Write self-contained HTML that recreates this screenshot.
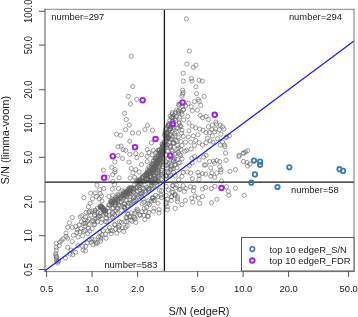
<!DOCTYPE html>
<html><head><meta charset="utf-8"><style>
html,body{margin:0;padding:0;background:#fff;}
body{width:358px;height:317px;overflow:hidden;}
svg{display:block;will-change:transform;}
text{font-family:"Liberation Sans",sans-serif;fill:#1a1a1a;}
.tk2{font-size:9.7px;}
.tk3{font-size:10.5px;}
.ttl{font-size:11.8px;}
</style></head><body><svg xmlns="http://www.w3.org/2000/svg" width="358" height="317" viewBox="0 0 358 317"><g fill="none" stroke="#606060" stroke-width="0.6"><circle cx="131.3" cy="56.2" r="2.1"/><circle cx="186.4" cy="18.8" r="2.1"/><circle cx="189.4" cy="51.0" r="2.1"/><circle cx="186.8" cy="64.1" r="2.1"/><circle cx="193.4" cy="67.3" r="2.1"/><circle cx="195.9" cy="65.2" r="2.1"/><circle cx="183.2" cy="73.2" r="2.1"/><circle cx="183.2" cy="81.1" r="2.1"/><circle cx="191.4" cy="78.5" r="2.1"/><circle cx="192.0" cy="81.1" r="2.1"/><circle cx="199.1" cy="80.3" r="2.1"/><circle cx="202.3" cy="81.1" r="2.1"/><circle cx="195.9" cy="86.8" r="2.1"/><circle cx="182.6" cy="90.2" r="2.1"/><circle cx="183.2" cy="92.5" r="2.1"/><circle cx="182.6" cy="94.2" r="2.1"/><circle cx="182.0" cy="96.2" r="2.1"/><circle cx="196.6" cy="93.6" r="2.1"/><circle cx="204.2" cy="96.5" r="2.1"/><circle cx="178.6" cy="104.4" r="2.1"/><circle cx="188.3" cy="103.3" r="2.1"/><circle cx="185.5" cy="105.8" r="2.1"/><circle cx="194.3" cy="101.6" r="2.1"/><circle cx="198.2" cy="99.3" r="2.1"/><circle cx="199.1" cy="101.2" r="2.1"/><circle cx="200.8" cy="105.3" r="2.1"/><circle cx="191.1" cy="106.7" r="2.1"/><circle cx="178.6" cy="110.7" r="2.1"/><circle cx="183.2" cy="109.9" r="2.1"/><circle cx="192.3" cy="110.7" r="2.1"/><circle cx="197.4" cy="110.1" r="2.1"/><circle cx="132.8" cy="86.5" r="2.1"/><circle cx="128.3" cy="96.3" r="2.1"/><circle cx="136.7" cy="99.3" r="2.1"/><circle cx="130.5" cy="104.0" r="2.1"/><circle cx="124.6" cy="113.3" r="2.1"/><circle cx="126.3" cy="119.5" r="2.1"/><circle cx="206.1" cy="116.5" r="2.1"/><circle cx="208.4" cy="119.4" r="2.1"/><circle cx="215.8" cy="122.0" r="2.1"/><circle cx="216.4" cy="123.9" r="2.1"/><circle cx="212.4" cy="125.1" r="2.1"/><circle cx="208.4" cy="126.8" r="2.1"/><circle cx="220.3" cy="125.1" r="2.1"/><circle cx="222.6" cy="126.8" r="2.1"/><circle cx="223.8" cy="129.0" r="2.1"/><circle cx="211.8" cy="129.6" r="2.1"/><circle cx="215.8" cy="129.0" r="2.1"/><circle cx="219.2" cy="129.6" r="2.1"/><circle cx="209.5" cy="132.5" r="2.1"/><circle cx="214.7" cy="131.9" r="2.1"/><circle cx="206.1" cy="132.5" r="2.1"/><circle cx="220.9" cy="134.2" r="2.1"/><circle cx="212.4" cy="135.9" r="2.1"/><circle cx="229.4" cy="135.9" r="2.1"/><circle cx="217.5" cy="138.7" r="2.1"/><circle cx="226.0" cy="137.6" r="2.1"/><circle cx="207.3" cy="138.1" r="2.1"/><circle cx="210.1" cy="141.0" r="2.1"/><circle cx="213.0" cy="142.1" r="2.1"/><circle cx="206.1" cy="142.7" r="2.1"/><circle cx="222.6" cy="142.1" r="2.1"/><circle cx="220.3" cy="145.0" r="2.1"/><circle cx="224.3" cy="145.0" r="2.1"/><circle cx="224.9" cy="146.7" r="2.1"/><circle cx="187.7" cy="116.5" r="2.1"/><circle cx="188.9" cy="122.8" r="2.1"/><circle cx="192.3" cy="126.2" r="2.1"/><circle cx="195.7" cy="127.9" r="2.1"/><circle cx="199.7" cy="129.0" r="2.1"/><circle cx="203.1" cy="130.2" r="2.1"/><circle cx="188.9" cy="130.8" r="2.1"/><circle cx="193.4" cy="135.9" r="2.1"/><circle cx="198.0" cy="134.7" r="2.1"/><circle cx="188.3" cy="137.0" r="2.1"/><circle cx="185.5" cy="142.1" r="2.1"/><circle cx="190.6" cy="142.1" r="2.1"/><circle cx="195.7" cy="140.4" r="2.1"/><circle cx="199.1" cy="142.7" r="2.1"/><circle cx="194.5" cy="145.5" r="2.1"/><circle cx="202.5" cy="145.0" r="2.1"/><circle cx="200.2" cy="115.4" r="2.1"/><circle cx="202.5" cy="117.7" r="2.1"/><circle cx="178.6" cy="113.1" r="2.1"/><circle cx="182.0" cy="114.3" r="2.1"/><circle cx="176.4" cy="116.5" r="2.1"/><circle cx="173.0" cy="117.1" r="2.1"/><circle cx="179.8" cy="117.1" r="2.1"/><circle cx="179.2" cy="123.4" r="2.1"/><circle cx="180.9" cy="126.8" r="2.1"/><circle cx="176.4" cy="127.9" r="2.1"/><circle cx="182.0" cy="130.2" r="2.1"/><circle cx="176.4" cy="131.9" r="2.1"/><circle cx="181.5" cy="133.0" r="2.1"/><circle cx="183.2" cy="136.4" r="2.1"/><circle cx="178.1" cy="137.0" r="2.1"/><circle cx="175.8" cy="140.4" r="2.1"/><circle cx="180.9" cy="141.5" r="2.1"/><circle cx="177.5" cy="145.5" r="2.1"/><circle cx="182.0" cy="145.5" r="2.1"/><circle cx="167.5" cy="127.0" r="2.1"/><circle cx="169.5" cy="130.0" r="2.1"/><circle cx="167.0" cy="133.0" r="2.1"/><circle cx="170.0" cy="135.0" r="2.1"/><circle cx="168.0" cy="138.0" r="2.1"/><circle cx="166.5" cy="141.0" r="2.1"/><circle cx="169.5" cy="142.0" r="2.1"/><circle cx="171.5" cy="139.0" r="2.1"/><circle cx="167.5" cy="145.0" r="2.1"/><circle cx="170.5" cy="146.5" r="2.1"/><circle cx="173.0" cy="143.0" r="2.1"/><circle cx="172.0" cy="132.0" r="2.1"/><circle cx="166.5" cy="136.0" r="2.1"/><circle cx="129.3" cy="125.1" r="2.1"/><circle cx="125.6" cy="129.6" r="2.1"/><circle cx="132.4" cy="133.0" r="2.1"/><circle cx="138.6" cy="133.0" r="2.1"/><circle cx="144.9" cy="129.6" r="2.1"/><circle cx="147.5" cy="125.4" r="2.1"/><circle cx="152.5" cy="130.2" r="2.1"/><circle cx="129.8" cy="141.3" r="2.1"/><circle cx="151.4" cy="142.9" r="2.1"/><circle cx="116.6" cy="134.2" r="2.1"/><circle cx="120.5" cy="135.3" r="2.1"/><circle cx="118.0" cy="146.7" r="2.1"/><circle cx="121.1" cy="146.1" r="2.1"/><circle cx="118.0" cy="155.4" r="2.1"/><circle cx="122.5" cy="158.5" r="2.1"/><circle cx="114.8" cy="161.9" r="2.1"/><circle cx="111.7" cy="167.3" r="2.1"/><circle cx="115.1" cy="169.6" r="2.1"/><circle cx="103.4" cy="170.2" r="2.1"/><circle cx="114.8" cy="171.9" r="2.1"/><circle cx="112.8" cy="174.7" r="2.1"/><circle cx="107.7" cy="177.3" r="2.1"/><circle cx="119.1" cy="177.8" r="2.1"/><circle cx="112.8" cy="181.5" r="2.1"/><circle cx="123.1" cy="149.7" r="2.1"/><circle cx="125.6" cy="150.3" r="2.1"/><circle cx="129.8" cy="154.3" r="2.1"/><circle cx="135.8" cy="153.7" r="2.1"/><circle cx="136.9" cy="157.7" r="2.1"/><circle cx="141.5" cy="154.8" r="2.1"/><circle cx="129.0" cy="162.2" r="2.1"/><circle cx="141.5" cy="164.5" r="2.1"/><circle cx="147.2" cy="161.6" r="2.1"/><circle cx="131.3" cy="168.5" r="2.1"/><circle cx="135.8" cy="169.6" r="2.1"/><circle cx="133.0" cy="173.0" r="2.1"/><circle cx="139.2" cy="171.9" r="2.1"/><circle cx="130.1" cy="178.1" r="2.1"/><circle cx="134.7" cy="177.5" r="2.1"/><circle cx="136.4" cy="179.8" r="2.1"/><circle cx="147.2" cy="149.7" r="2.1"/><circle cx="148.9" cy="152.5" r="2.1"/><circle cx="153.4" cy="150.3" r="2.1"/><circle cx="147.2" cy="156.5" r="2.1"/><circle cx="152.3" cy="154.8" r="2.1"/><circle cx="155.7" cy="153.1" r="2.1"/><circle cx="158.0" cy="150.3" r="2.1"/><circle cx="167.3" cy="151.4" r="2.1"/><circle cx="171.8" cy="149.7" r="2.1"/><circle cx="176.9" cy="149.1" r="2.1"/><circle cx="180.9" cy="149.7" r="2.1"/><circle cx="184.9" cy="151.4" r="2.1"/><circle cx="178.1" cy="152.5" r="2.1"/><circle cx="174.7" cy="154.3" r="2.1"/><circle cx="180.9" cy="155.4" r="2.1"/><circle cx="177.5" cy="159.4" r="2.1"/><circle cx="182.0" cy="158.8" r="2.1"/><circle cx="173.0" cy="160.5" r="2.1"/><circle cx="167.8" cy="163.9" r="2.1"/><circle cx="171.3" cy="165.0" r="2.1"/><circle cx="175.8" cy="164.5" r="2.1"/><circle cx="179.8" cy="162.8" r="2.1"/><circle cx="167.3" cy="168.5" r="2.1"/><circle cx="171.8" cy="169.0" r="2.1"/><circle cx="176.9" cy="167.9" r="2.1"/><circle cx="168.4" cy="173.0" r="2.1"/><circle cx="173.5" cy="172.4" r="2.1"/><circle cx="169.5" cy="176.4" r="2.1"/><circle cx="166.1" cy="175.8" r="2.1"/><circle cx="175.2" cy="175.8" r="2.1"/><circle cx="186.6" cy="150.3" r="2.1"/><circle cx="191.1" cy="149.1" r="2.1"/><circle cx="191.7" cy="158.2" r="2.1"/><circle cx="194.5" cy="156.5" r="2.1"/><circle cx="199.1" cy="159.9" r="2.1"/><circle cx="189.4" cy="165.6" r="2.1"/><circle cx="192.3" cy="162.8" r="2.1"/><circle cx="204.2" cy="165.0" r="2.1"/><circle cx="183.2" cy="172.4" r="2.1"/><circle cx="187.2" cy="171.9" r="2.1"/><circle cx="190.6" cy="173.0" r="2.1"/><circle cx="182.0" cy="176.4" r="2.1"/><circle cx="198.0" cy="172.4" r="2.1"/><circle cx="199.1" cy="175.3" r="2.1"/><circle cx="202.5" cy="173.6" r="2.1"/><circle cx="199.1" cy="179.3" r="2.1"/><circle cx="192.3" cy="178.7" r="2.1"/><circle cx="178.6" cy="179.8" r="2.1"/><circle cx="203.6" cy="157.1" r="2.1"/><circle cx="206.1" cy="155.4" r="2.1"/><circle cx="205.6" cy="165.0" r="2.1"/><circle cx="209.5" cy="161.6" r="2.1"/><circle cx="213.5" cy="161.1" r="2.1"/><circle cx="214.7" cy="163.3" r="2.1"/><circle cx="216.9" cy="160.5" r="2.1"/><circle cx="219.8" cy="161.6" r="2.1"/><circle cx="225.5" cy="153.1" r="2.1"/><circle cx="226.0" cy="160.3" r="2.1"/><circle cx="210.7" cy="167.9" r="2.1"/><circle cx="219.8" cy="166.8" r="2.1"/><circle cx="220.9" cy="169.6" r="2.1"/><circle cx="220.9" cy="171.9" r="2.1"/><circle cx="216.9" cy="173.0" r="2.1"/><circle cx="211.8" cy="173.0" r="2.1"/><circle cx="205.6" cy="174.1" r="2.1"/><circle cx="210.7" cy="176.4" r="2.1"/><circle cx="214.7" cy="177.3" r="2.1"/><circle cx="230.0" cy="171.3" r="2.1"/><circle cx="235.5" cy="169.6" r="2.1"/><circle cx="238.9" cy="156.5" r="2.1"/><circle cx="243.1" cy="153.1" r="2.1"/><circle cx="243.6" cy="161.6" r="2.1"/><circle cx="221.5" cy="181.0" r="2.1"/><circle cx="226.7" cy="137.0" r="2.1"/><circle cx="247.7" cy="150.7" r="2.1"/><circle cx="245.5" cy="151.8" r="2.1"/><circle cx="243.8" cy="153.2" r="2.1"/><circle cx="239.2" cy="155.2" r="2.1"/><circle cx="247.0" cy="162.5" r="2.1"/><circle cx="249.9" cy="164.2" r="2.1"/><circle cx="247.6" cy="165.9" r="2.1"/><circle cx="166.1" cy="186.3" r="2.1"/><circle cx="172.4" cy="185.7" r="2.1"/><circle cx="176.4" cy="185.1" r="2.1"/><circle cx="180.3" cy="189.1" r="2.1"/><circle cx="183.2" cy="185.7" r="2.1"/><circle cx="186.0" cy="188.5" r="2.1"/><circle cx="190.6" cy="186.8" r="2.1"/><circle cx="194.0" cy="187.4" r="2.1"/><circle cx="193.4" cy="190.8" r="2.1"/><circle cx="184.3" cy="191.4" r="2.1"/><circle cx="202.5" cy="189.1" r="2.1"/><circle cx="171.8" cy="192.0" r="2.1"/><circle cx="175.2" cy="194.2" r="2.1"/><circle cx="166.1" cy="195.4" r="2.1"/><circle cx="171.8" cy="196.5" r="2.1"/><circle cx="177.5" cy="196.5" r="2.1"/><circle cx="177.5" cy="198.8" r="2.1"/><circle cx="171.3" cy="200.5" r="2.1"/><circle cx="167.3" cy="199.3" r="2.1"/><circle cx="177.5" cy="201.6" r="2.1"/><circle cx="185.5" cy="200.5" r="2.1"/><circle cx="182.0" cy="204.5" r="2.1"/><circle cx="166.1" cy="203.9" r="2.1"/><circle cx="167.3" cy="206.7" r="2.1"/><circle cx="167.3" cy="209.6" r="2.1"/><circle cx="175.2" cy="208.4" r="2.1"/><circle cx="191.7" cy="198.2" r="2.1"/><circle cx="195.1" cy="195.9" r="2.1"/><circle cx="192.8" cy="202.2" r="2.1"/><circle cx="198.5" cy="198.2" r="2.1"/><circle cx="202.5" cy="196.5" r="2.1"/><circle cx="199.7" cy="203.3" r="2.1"/><circle cx="205.6" cy="187.4" r="2.1"/><circle cx="211.3" cy="188.5" r="2.1"/><circle cx="215.0" cy="186.3" r="2.1"/><circle cx="226.4" cy="186.8" r="2.1"/><circle cx="228.3" cy="191.4" r="2.1"/><circle cx="228.9" cy="195.3" r="2.1"/><circle cx="235.5" cy="188.2" r="2.1"/><circle cx="244.2" cy="195.3" r="2.1"/><circle cx="216.9" cy="199.3" r="2.1"/><circle cx="211.6" cy="202.7" r="2.1"/><circle cx="152.3" cy="197.6" r="2.1"/><circle cx="155.7" cy="195.4" r="2.1"/><circle cx="149.4" cy="204.5" r="2.1"/><circle cx="147.7" cy="203.3" r="2.1"/><circle cx="143.8" cy="202.2" r="2.1"/><circle cx="158.0" cy="203.3" r="2.1"/><circle cx="161.4" cy="197.6" r="2.1"/><circle cx="154.0" cy="208.4" r="2.1"/><circle cx="153.4" cy="211.3" r="2.1"/><circle cx="159.1" cy="213.0" r="2.1"/><circle cx="148.9" cy="212.4" r="2.1"/><circle cx="145.5" cy="211.3" r="2.1"/><circle cx="142.0" cy="211.8" r="2.1"/><circle cx="139.8" cy="214.7" r="2.1"/><circle cx="143.8" cy="215.3" r="2.1"/><circle cx="148.3" cy="216.4" r="2.1"/><circle cx="134.7" cy="217.5" r="2.1"/><circle cx="131.3" cy="213.0" r="2.1"/><circle cx="127.3" cy="213.5" r="2.1"/><circle cx="135.8" cy="211.3" r="2.1"/><circle cx="143.2" cy="198.8" r="2.1"/><circle cx="161.4" cy="190.8" r="2.1"/><circle cx="158.0" cy="196.5" r="2.1"/><circle cx="159.1" cy="209.6" r="2.1"/><circle cx="151.1" cy="201.0" r="2.1"/><circle cx="154.5" cy="199.9" r="2.1"/><circle cx="138.6" cy="196.5" r="2.1"/><circle cx="144.9" cy="190.8" r="2.1"/><circle cx="148.9" cy="188.5" r="2.1"/><circle cx="154.0" cy="186.3" r="2.1"/><circle cx="134.1" cy="201.0" r="2.1"/><circle cx="129.5" cy="203.9" r="2.1"/><circle cx="96.9" cy="185.1" r="2.1"/><circle cx="103.8" cy="188.5" r="2.1"/><circle cx="99.8" cy="189.7" r="2.1"/><circle cx="112.3" cy="189.1" r="2.1"/><circle cx="118.5" cy="188.5" r="2.1"/><circle cx="114.5" cy="184.6" r="2.1"/><circle cx="90.7" cy="193.1" r="2.1"/><circle cx="95.2" cy="193.1" r="2.1"/><circle cx="100.3" cy="193.7" r="2.1"/><circle cx="101.5" cy="195.9" r="2.1"/><circle cx="96.4" cy="196.5" r="2.1"/><circle cx="92.4" cy="198.8" r="2.1"/><circle cx="99.2" cy="198.8" r="2.1"/><circle cx="102.0" cy="201.0" r="2.1"/><circle cx="90.1" cy="203.3" r="2.1"/><circle cx="88.4" cy="206.7" r="2.1"/><circle cx="83.8" cy="197.5" r="2.1"/><circle cx="89.5" cy="211.3" r="2.1"/><circle cx="94.7" cy="212.4" r="2.1"/><circle cx="86.1" cy="212.4" r="2.1"/><circle cx="108.9" cy="196.5" r="2.1"/><circle cx="112.8" cy="195.4" r="2.1"/><circle cx="118.0" cy="194.2" r="2.1"/><circle cx="121.9" cy="190.8" r="2.1"/><circle cx="112.8" cy="199.9" r="2.1"/><circle cx="179.1" cy="105.2" r="2.1"/><circle cx="180.2" cy="103.5" r="2.1"/><circle cx="182.5" cy="106.4" r="2.1"/><circle cx="178.5" cy="111.5" r="2.1"/><circle cx="181.4" cy="112.0" r="2.1"/><circle cx="175.1" cy="118.6" r="2.1"/><circle cx="175.7" cy="120.6" r="2.1"/><circle cx="179.1" cy="122.3" r="2.1"/><circle cx="180.2" cy="125.7" r="2.1"/><circle cx="178.0" cy="128.0" r="2.1"/><circle cx="170.0" cy="129.1" r="2.1"/><circle cx="183.6" cy="109.8" r="2.1"/><circle cx="183.6" cy="120.0" r="2.1"/><circle cx="72.3" cy="217.5" r="2.1"/><circle cx="80.2" cy="217.0" r="2.1"/><circle cx="81.9" cy="215.8" r="2.1"/><circle cx="69.4" cy="222.8" r="2.1"/><circle cx="67.7" cy="227.4" r="2.1"/><circle cx="72.3" cy="227.4" r="2.1"/><circle cx="75.7" cy="226.3" r="2.1"/><circle cx="79.1" cy="225.1" r="2.1"/><circle cx="81.4" cy="221.7" r="2.1"/><circle cx="83.6" cy="223.4" r="2.1"/><circle cx="77.4" cy="229.7" r="2.1"/><circle cx="80.8" cy="228.5" r="2.1"/><circle cx="76.8" cy="232.5" r="2.1"/><circle cx="80.2" cy="231.9" r="2.1"/><circle cx="83.6" cy="231.4" r="2.1"/><circle cx="73.4" cy="235.3" r="2.1"/><circle cx="78.0" cy="237.0" r="2.1"/><circle cx="82.5" cy="235.9" r="2.1"/><circle cx="66.0" cy="233.1" r="2.1"/><circle cx="66.0" cy="236.5" r="2.1"/><circle cx="67.7" cy="238.2" r="2.1"/><circle cx="63.2" cy="238.8" r="2.1"/><circle cx="61.5" cy="240.5" r="2.1"/><circle cx="59.8" cy="242.2" r="2.1"/><circle cx="56.4" cy="243.3" r="2.1"/><circle cx="59.2" cy="245.6" r="2.1"/><circle cx="72.3" cy="241.6" r="2.1"/><circle cx="67.7" cy="247.3" r="2.1"/><circle cx="56.4" cy="250.1" r="2.1"/><circle cx="55.8" cy="253.5" r="2.1"/><circle cx="55.8" cy="255.2" r="2.1"/><circle cx="71.1" cy="250.1" r="2.1"/><circle cx="75.7" cy="252.4" r="2.1"/><circle cx="70.0" cy="254.1" r="2.1"/><circle cx="72.8" cy="254.7" r="2.1"/><circle cx="82.5" cy="246.1" r="2.1"/><circle cx="83.1" cy="250.1" r="2.1"/><circle cx="78.0" cy="245.6" r="2.1"/><circle cx="56.4" cy="259.9" r="2.1"/><circle cx="58.6" cy="261.0" r="2.1"/><circle cx="65.5" cy="258.2" r="2.1"/><circle cx="95.8" cy="242.2" r="2.1"/><circle cx="91.3" cy="242.2" r="2.1"/><circle cx="87.3" cy="242.7" r="2.1"/><circle cx="85.6" cy="246.1" r="2.1"/><circle cx="85.6" cy="250.7" r="2.1"/><circle cx="100.9" cy="238.8" r="2.1"/><circle cx="106.0" cy="238.2" r="2.1"/><circle cx="105.5" cy="234.2" r="2.1"/><circle cx="102.0" cy="234.8" r="2.1"/><circle cx="98.6" cy="237.0" r="2.1"/><circle cx="111.1" cy="233.6" r="2.1"/><circle cx="112.3" cy="230.8" r="2.1"/><circle cx="115.7" cy="229.1" r="2.1"/><circle cx="119.1" cy="230.2" r="2.1"/><circle cx="122.5" cy="228.0" r="2.1"/><circle cx="119.1" cy="225.7" r="2.1"/><circle cx="114.5" cy="224.5" r="2.1"/><circle cx="107.7" cy="230.8" r="2.1"/><circle cx="103.2" cy="230.8" r="2.1"/><circle cx="99.8" cy="232.5" r="2.1"/><circle cx="91.8" cy="239.3" r="2.1"/><circle cx="89.5" cy="239.9" r="2.1"/><circle cx="121.4" cy="222.3" r="2.1"/><circle cx="123.6" cy="231.4" r="2.1"/><circle cx="116.8" cy="233.1" r="2.1"/><circle cx="126.1" cy="217.3" r="2.1"/><circle cx="129.5" cy="216.7" r="2.1"/><circle cx="133.5" cy="216.7" r="2.1"/><circle cx="135.2" cy="219.0" r="2.1"/><circle cx="131.8" cy="221.3" r="2.1"/><circle cx="130.7" cy="220.1" r="2.1"/><circle cx="135.8" cy="222.4" r="2.1"/><circle cx="126.7" cy="221.8" r="2.1"/><circle cx="127.3" cy="225.8" r="2.1"/><circle cx="125.6" cy="227.5" r="2.1"/><circle cx="140.3" cy="215.6" r="2.1"/><circle cx="144.9" cy="219.5" r="2.1"/><circle cx="147.7" cy="216.1" r="2.1"/><circle cx="173.1" cy="185.5" r="2.1"/><circle cx="175.4" cy="187.8" r="2.1"/><circle cx="179.3" cy="189.5" r="2.1"/><circle cx="173.1" cy="192.4" r="2.1"/><circle cx="171.4" cy="196.9" r="2.1"/><circle cx="166.3" cy="202.0" r="2.1"/><circle cx="174.8" cy="195.2" r="2.1"/><circle cx="168.5" cy="190.0" r="2.1"/><circle cx="56.2" cy="247.5" r="2.1"/><circle cx="56.4" cy="256.5" r="2.1"/><circle cx="56.6" cy="258.0" r="2.1"/><circle cx="57.0" cy="261.5" r="2.1"/><circle cx="57.5" cy="263.0" r="2.1"/><circle cx="113.2" cy="200.3" r="2.1"/><circle cx="115.5" cy="197.9" r="2.1"/><circle cx="115.4" cy="199.7" r="2.1"/><circle cx="112.0" cy="203.2" r="2.1"/><circle cx="111.6" cy="203.1" r="2.1"/><circle cx="111.0" cy="201.7" r="2.1"/><circle cx="115.8" cy="202.1" r="2.1"/><circle cx="111.8" cy="201.8" r="2.1"/><circle cx="117.8" cy="201.4" r="2.1"/><circle cx="115.8" cy="199.6" r="2.1"/><circle cx="117.9" cy="195.7" r="2.1"/><circle cx="117.7" cy="197.4" r="2.1"/><circle cx="111.7" cy="201.4" r="2.1"/><circle cx="114.8" cy="202.7" r="2.1"/><circle cx="113.2" cy="202.7" r="2.1"/><circle cx="125.4" cy="192.4" r="2.1"/><circle cx="123.6" cy="191.8" r="2.1"/><circle cx="119.2" cy="195.7" r="2.1"/><circle cx="126.0" cy="192.4" r="2.1"/><circle cx="122.8" cy="195.6" r="2.1"/><circle cx="123.3" cy="193.4" r="2.1"/><circle cx="127.9" cy="192.8" r="2.1"/><circle cx="122.1" cy="196.0" r="2.1"/><circle cx="125.8" cy="195.4" r="2.1"/><circle cx="126.0" cy="191.5" r="2.1"/><circle cx="128.0" cy="189.0" r="2.1"/><circle cx="124.4" cy="195.6" r="2.1"/><circle cx="121.0" cy="196.3" r="2.1"/><circle cx="120.4" cy="197.8" r="2.1"/><circle cx="127.2" cy="192.4" r="2.1"/><circle cx="127.5" cy="190.6" r="2.1"/><circle cx="126.6" cy="193.0" r="2.1"/><circle cx="125.1" cy="193.2" r="2.1"/><circle cx="129.1" cy="193.5" r="2.1"/><circle cx="124.6" cy="194.8" r="2.1"/><circle cx="130.5" cy="190.8" r="2.1"/><circle cx="137.2" cy="187.5" r="2.1"/><circle cx="136.7" cy="183.2" r="2.1"/><circle cx="133.6" cy="188.2" r="2.1"/><circle cx="129.4" cy="190.2" r="2.1"/><circle cx="129.7" cy="187.6" r="2.1"/><circle cx="130.7" cy="191.1" r="2.1"/><circle cx="129.8" cy="188.5" r="2.1"/><circle cx="134.3" cy="189.0" r="2.1"/><circle cx="129.9" cy="189.7" r="2.1"/><circle cx="135.9" cy="187.8" r="2.1"/><circle cx="138.5" cy="185.6" r="2.1"/><circle cx="131.8" cy="188.0" r="2.1"/><circle cx="134.1" cy="189.3" r="2.1"/><circle cx="137.6" cy="181.6" r="2.1"/><circle cx="130.2" cy="188.0" r="2.1"/><circle cx="131.5" cy="188.6" r="2.1"/><circle cx="134.3" cy="184.9" r="2.1"/><circle cx="129.1" cy="190.1" r="2.1"/><circle cx="133.1" cy="187.9" r="2.1"/><circle cx="139.3" cy="183.8" r="2.1"/><circle cx="143.0" cy="180.5" r="2.1"/><circle cx="142.4" cy="177.3" r="2.1"/><circle cx="146.2" cy="179.2" r="2.1"/><circle cx="146.1" cy="179.4" r="2.1"/><circle cx="141.5" cy="180.2" r="2.1"/><circle cx="140.2" cy="182.7" r="2.1"/><circle cx="138.2" cy="180.6" r="2.1"/><circle cx="139.5" cy="180.2" r="2.1"/><circle cx="140.0" cy="179.1" r="2.1"/><circle cx="138.0" cy="181.3" r="2.1"/><circle cx="139.4" cy="181.6" r="2.1"/><circle cx="140.4" cy="184.1" r="2.1"/><circle cx="142.2" cy="178.0" r="2.1"/><circle cx="140.4" cy="180.8" r="2.1"/><circle cx="146.1" cy="174.3" r="2.1"/><circle cx="151.8" cy="174.5" r="2.1"/><circle cx="148.0" cy="174.9" r="2.1"/><circle cx="144.8" cy="175.7" r="2.1"/><circle cx="146.6" cy="174.8" r="2.1"/><circle cx="148.4" cy="171.8" r="2.1"/><circle cx="147.9" cy="178.9" r="2.1"/><circle cx="147.0" cy="173.4" r="2.1"/><circle cx="146.5" cy="173.0" r="2.1"/><circle cx="150.3" cy="176.2" r="2.1"/><circle cx="150.7" cy="173.4" r="2.1"/><circle cx="146.6" cy="175.6" r="2.1"/><circle cx="152.3" cy="171.7" r="2.1"/><circle cx="153.6" cy="169.5" r="2.1"/><circle cx="150.4" cy="169.3" r="2.1"/><circle cx="155.5" cy="168.4" r="2.1"/><circle cx="154.9" cy="167.7" r="2.1"/><circle cx="154.4" cy="167.7" r="2.1"/><circle cx="151.4" cy="170.7" r="2.1"/><circle cx="149.6" cy="168.6" r="2.1"/><circle cx="149.6" cy="171.3" r="2.1"/><circle cx="152.3" cy="170.9" r="2.1"/><circle cx="153.6" cy="166.1" r="2.1"/><circle cx="156.0" cy="167.7" r="2.1"/><circle cx="156.2" cy="160.4" r="2.1"/><circle cx="153.4" cy="164.1" r="2.1"/><circle cx="153.2" cy="164.2" r="2.1"/><circle cx="157.7" cy="163.6" r="2.1"/><circle cx="156.4" cy="161.3" r="2.1"/><circle cx="157.3" cy="163.2" r="2.1"/><circle cx="155.0" cy="165.9" r="2.1"/><circle cx="158.0" cy="161.7" r="2.1"/><circle cx="156.2" cy="161.8" r="2.1"/><circle cx="155.9" cy="165.7" r="2.1"/><circle cx="159.5" cy="159.1" r="2.1"/><circle cx="159.9" cy="153.9" r="2.1"/><circle cx="160.5" cy="159.0" r="2.1"/><circle cx="158.0" cy="155.0" r="2.1"/><circle cx="155.8" cy="158.8" r="2.1"/><circle cx="161.6" cy="155.4" r="2.1"/><circle cx="159.0" cy="160.4" r="2.1"/><circle cx="161.2" cy="154.5" r="2.1"/><circle cx="158.4" cy="158.3" r="2.1"/><circle cx="155.2" cy="158.5" r="2.1"/><circle cx="161.1" cy="154.6" r="2.1"/><circle cx="160.8" cy="158.1" r="2.1"/><circle cx="163.4" cy="152.1" r="2.1"/><circle cx="161.2" cy="148.5" r="2.1"/><circle cx="160.1" cy="152.1" r="2.1"/><circle cx="161.5" cy="152.7" r="2.1"/><circle cx="160.8" cy="152.3" r="2.1"/><circle cx="162.8" cy="154.0" r="2.1"/><circle cx="161.2" cy="151.8" r="2.1"/><circle cx="163.9" cy="151.3" r="2.1"/><circle cx="163.6" cy="152.3" r="2.1"/><circle cx="161.9" cy="151.1" r="2.1"/><circle cx="159.5" cy="149.9" r="2.1"/><circle cx="162.3" cy="144.8" r="2.1"/><circle cx="164.5" cy="148.5" r="2.1"/><circle cx="163.2" cy="146.9" r="2.1"/><circle cx="164.7" cy="143.7" r="2.1"/><circle cx="163.7" cy="146.1" r="2.1"/><circle cx="165.5" cy="145.1" r="2.1"/><circle cx="163.5" cy="147.5" r="2.1"/><circle cx="162.4" cy="146.1" r="2.1"/><circle cx="164.6" cy="143.4" r="2.1"/><circle cx="165.4" cy="145.1" r="2.1"/><circle cx="164.5" cy="142.4" r="2.1"/><circle cx="165.9" cy="137.2" r="2.1"/><circle cx="166.8" cy="138.1" r="2.1"/><circle cx="165.8" cy="138.5" r="2.1"/><circle cx="168.0" cy="138.7" r="2.1"/><circle cx="168.0" cy="136.8" r="2.1"/><circle cx="165.2" cy="134.3" r="2.1"/><circle cx="168.1" cy="138.0" r="2.1"/><circle cx="164.4" cy="135.0" r="2.1"/><circle cx="166.5" cy="133.2" r="2.1"/><circle cx="165.4" cy="133.2" r="2.1"/><circle cx="167.5" cy="133.8" r="2.1"/><circle cx="170.0" cy="129.1" r="2.1"/><circle cx="167.9" cy="133.3" r="2.1"/><circle cx="166.1" cy="128.9" r="2.1"/><circle cx="170.5" cy="128.5" r="2.1"/><circle cx="171.1" cy="126.4" r="2.1"/><circle cx="169.2" cy="124.6" r="2.1"/><circle cx="172.1" cy="121.6" r="2.1"/><circle cx="168.5" cy="125.9" r="2.1"/><circle cx="168.8" cy="123.7" r="2.1"/><circle cx="168.0" cy="125.5" r="2.1"/><circle cx="170.2" cy="116.0" r="2.1"/><circle cx="171.5" cy="117.6" r="2.1"/><circle cx="169.8" cy="120.6" r="2.1"/><circle cx="171.9" cy="117.3" r="2.1"/><circle cx="172.9" cy="121.5" r="2.1"/><circle cx="176.7" cy="110.1" r="2.1"/><circle cx="172.2" cy="114.0" r="2.1"/><circle cx="173.8" cy="115.3" r="2.1"/><circle cx="172.3" cy="112.6" r="2.1"/><circle cx="175.4" cy="112.7" r="2.1"/><circle cx="105.8" cy="211.1" r="2.1"/><circle cx="100.6" cy="207.5" r="2.1"/><circle cx="103.6" cy="210.0" r="2.1"/><circle cx="101.3" cy="206.0" r="2.1"/><circle cx="104.7" cy="210.4" r="2.1"/><circle cx="100.1" cy="207.0" r="2.1"/><circle cx="103.9" cy="210.6" r="2.1"/><circle cx="100.3" cy="207.0" r="2.1"/><circle cx="100.2" cy="206.9" r="2.1"/><circle cx="103.3" cy="208.8" r="2.1"/><circle cx="103.2" cy="210.2" r="2.1"/><circle cx="102.4" cy="207.3" r="2.1"/><circle cx="103.9" cy="209.1" r="2.1"/><circle cx="101.3" cy="206.3" r="2.1"/><circle cx="100.9" cy="206.0" r="2.1"/><circle cx="102.4" cy="207.8" r="2.1"/><circle cx="105.3" cy="210.7" r="2.1"/><circle cx="150.6" cy="181.0" r="2.1"/><circle cx="154.9" cy="179.0" r="2.1"/><circle cx="158.4" cy="181.5" r="2.1"/><circle cx="150.8" cy="182.5" r="2.1"/><circle cx="151.8" cy="182.5" r="2.1"/><circle cx="156.5" cy="182.4" r="2.1"/><circle cx="140.2" cy="187.5" r="2.1"/><circle cx="145.2" cy="184.7" r="2.1"/><circle cx="146.7" cy="187.0" r="2.1"/><circle cx="151.1" cy="186.0" r="2.1"/><circle cx="151.9" cy="185.3" r="2.1"/><circle cx="156.8" cy="185.3" r="2.1"/><circle cx="139.5" cy="189.6" r="2.1"/><circle cx="142.3" cy="188.4" r="2.1"/><circle cx="143.7" cy="188.7" r="2.1"/><circle cx="148.4" cy="189.2" r="2.1"/><circle cx="149.4" cy="188.8" r="2.1"/><circle cx="152.1" cy="187.7" r="2.1"/><circle cx="130.4" cy="193.1" r="2.1"/><circle cx="133.5" cy="191.8" r="2.1"/><circle cx="137.0" cy="191.3" r="2.1"/><circle cx="141.1" cy="193.3" r="2.1"/><circle cx="142.6" cy="192.3" r="2.1"/><circle cx="145.6" cy="192.0" r="2.1"/><circle cx="148.7" cy="190.9" r="2.1"/><circle cx="123.0" cy="194.5" r="2.1"/><circle cx="124.9" cy="194.8" r="2.1"/><circle cx="127.7" cy="194.3" r="2.1"/><circle cx="129.7" cy="194.1" r="2.1"/><circle cx="135.2" cy="193.7" r="2.1"/><circle cx="136.8" cy="195.1" r="2.1"/><circle cx="140.7" cy="193.9" r="2.1"/><circle cx="141.9" cy="194.0" r="2.1"/><circle cx="118.2" cy="198.9" r="2.1"/><circle cx="121.2" cy="198.1" r="2.1"/><circle cx="124.2" cy="197.5" r="2.1"/><circle cx="126.5" cy="196.3" r="2.1"/><circle cx="130.0" cy="196.9" r="2.1"/><circle cx="133.3" cy="198.1" r="2.1"/><circle cx="134.4" cy="196.6" r="2.1"/><circle cx="137.2" cy="198.0" r="2.1"/><circle cx="141.3" cy="196.5" r="2.1"/><circle cx="110.6" cy="201.1" r="2.1"/><circle cx="115.0" cy="201.0" r="2.1"/><circle cx="117.7" cy="199.8" r="2.1"/><circle cx="121.3" cy="201.8" r="2.1"/><circle cx="122.9" cy="199.2" r="2.1"/><circle cx="126.1" cy="200.3" r="2.1"/><circle cx="130.0" cy="199.7" r="2.1"/><circle cx="133.2" cy="201.2" r="2.1"/><circle cx="135.3" cy="199.7" r="2.1"/><circle cx="111.1" cy="204.6" r="2.1"/><circle cx="115.4" cy="204.1" r="2.1"/><circle cx="118.6" cy="204.7" r="2.1"/><circle cx="119.6" cy="202.5" r="2.1"/><circle cx="124.2" cy="204.1" r="2.1"/><circle cx="124.5" cy="203.9" r="2.1"/><circle cx="128.4" cy="203.1" r="2.1"/><circle cx="131.1" cy="202.5" r="2.1"/><circle cx="108.7" cy="205.0" r="2.1"/><circle cx="109.5" cy="205.0" r="2.1"/><circle cx="115.0" cy="205.6" r="2.1"/><circle cx="117.3" cy="207.5" r="2.1"/><circle cx="119.1" cy="205.7" r="2.1"/><circle cx="123.7" cy="206.6" r="2.1"/><circle cx="124.6" cy="206.9" r="2.1"/><circle cx="127.7" cy="205.7" r="2.1"/><circle cx="105.5" cy="210.0" r="2.1"/><circle cx="107.6" cy="208.3" r="2.1"/><circle cx="112.4" cy="208.5" r="2.1"/><circle cx="113.3" cy="207.9" r="2.1"/><circle cx="117.6" cy="208.7" r="2.1"/><circle cx="121.7" cy="210.3" r="2.1"/><circle cx="124.7" cy="208.5" r="2.1"/><circle cx="124.9" cy="208.0" r="2.1"/><circle cx="105.6" cy="213.5" r="2.1"/><circle cx="108.8" cy="211.3" r="2.1"/><circle cx="112.6" cy="212.5" r="2.1"/><circle cx="116.0" cy="210.9" r="2.1"/><circle cx="117.4" cy="213.0" r="2.1"/><circle cx="106.0" cy="214.4" r="2.1"/><circle cx="109.0" cy="215.8" r="2.1"/><circle cx="112.9" cy="213.7" r="2.1"/><circle cx="114.5" cy="214.7" r="2.1"/><circle cx="106.4" cy="218.2" r="2.1"/><circle cx="110.1" cy="217.9" r="2.1"/><circle cx="112.4" cy="217.2" r="2.1"/><circle cx="105.3" cy="221.5" r="2.1"/><circle cx="106.7" cy="221.7" r="2.1"/><circle cx="95.2" cy="210.2" r="2.1"/><circle cx="97.5" cy="208.0" r="2.1"/><circle cx="101.9" cy="208.2" r="2.1"/><circle cx="88.9" cy="212.7" r="2.1"/><circle cx="92.1" cy="211.0" r="2.1"/><circle cx="95.1" cy="210.8" r="2.1"/><circle cx="97.6" cy="212.6" r="2.1"/><circle cx="100.3" cy="213.4" r="2.1"/><circle cx="104.3" cy="212.4" r="2.1"/><circle cx="85.6" cy="217.1" r="2.1"/><circle cx="90.7" cy="215.1" r="2.1"/><circle cx="94.6" cy="214.7" r="2.1"/><circle cx="98.6" cy="215.7" r="2.1"/><circle cx="99.8" cy="216.3" r="2.1"/><circle cx="103.4" cy="214.4" r="2.1"/><circle cx="85.0" cy="219.9" r="2.1"/><circle cx="89.0" cy="219.3" r="2.1"/><circle cx="94.8" cy="219.1" r="2.1"/><circle cx="97.0" cy="218.2" r="2.1"/><circle cx="98.2" cy="217.2" r="2.1"/><circle cx="102.0" cy="219.2" r="2.1"/><circle cx="85.5" cy="223.4" r="2.1"/><circle cx="87.5" cy="221.2" r="2.1"/><circle cx="92.6" cy="220.5" r="2.1"/><circle cx="93.8" cy="221.6" r="2.1"/><circle cx="97.5" cy="221.6" r="2.1"/><circle cx="101.2" cy="222.4" r="2.1"/><circle cx="85.0" cy="225.9" r="2.1"/><circle cx="89.2" cy="224.2" r="2.1"/><circle cx="94.1" cy="224.6" r="2.1"/><circle cx="94.8" cy="224.1" r="2.1"/><circle cx="88.4" cy="228.3" r="2.1"/><circle cx="92.0" cy="228.6" r="2.1"/><circle cx="85.1" cy="230.5" r="2.1"/><circle cx="87.7" cy="233.6" r="2.1"/><circle cx="89.7" cy="231.1" r="2.1"/><circle cx="159.4" cy="190.2" r="2.1"/><circle cx="161.0" cy="195.2" r="2.1"/><circle cx="152.7" cy="198.6" r="2.1"/><circle cx="153.5" cy="197.6" r="2.1"/><circle cx="142.1" cy="203.7" r="2.1"/><circle cx="148.2" cy="200.9" r="2.1"/><circle cx="153.6" cy="200.7" r="2.1"/><circle cx="137.2" cy="209.1" r="2.1"/><circle cx="144.3" cy="208.6" r="2.1"/><circle cx="146.7" cy="207.1" r="2.1"/><circle cx="128.1" cy="214.4" r="2.1"/><circle cx="134.7" cy="213.3" r="2.1"/><circle cx="137.7" cy="210.7" r="2.1"/><circle cx="126.8" cy="217.7" r="2.1"/><circle cx="130.6" cy="216.6" r="2.1"/><circle cx="119.5" cy="221.8" r="2.1"/><circle cx="124.9" cy="221.6" r="2.1"/><circle cx="109.5" cy="227.7" r="2.1"/><circle cx="115.0" cy="224.9" r="2.1"/><circle cx="118.5" cy="227.6" r="2.1"/><circle cx="110.5" cy="230.7" r="2.1"/><circle cx="100.7" cy="237.0" r="2.1"/><circle cx="94.7" cy="239.8" r="2.1"/><circle cx="97.5" cy="242.6" r="2.1"/><circle cx="100.6" cy="241.1" r="2.1"/><circle cx="92.9" cy="244.7" r="2.1"/><circle cx="96.1" cy="244.1" r="2.1"/><circle cx="164.0" cy="141.9" r="2.1"/><circle cx="162.1" cy="144.1" r="2.1"/><circle cx="163.2" cy="145.5" r="2.1"/><circle cx="162.8" cy="147.7" r="2.1"/><circle cx="158.9" cy="150.3" r="2.1"/><circle cx="159.5" cy="150.2" r="2.1"/><circle cx="163.4" cy="150.3" r="2.1"/><circle cx="161.0" cy="152.4" r="2.1"/><circle cx="162.5" cy="150.8" r="2.1"/><circle cx="157.9" cy="152.9" r="2.1"/><circle cx="162.0" cy="153.7" r="2.1"/><circle cx="162.3" cy="154.2" r="2.1"/><circle cx="157.0" cy="156.9" r="2.1"/><circle cx="159.7" cy="155.6" r="2.1"/><circle cx="159.9" cy="155.5" r="2.1"/><circle cx="162.4" cy="155.2" r="2.1"/><circle cx="155.1" cy="158.2" r="2.1"/><circle cx="156.9" cy="157.7" r="2.1"/><circle cx="160.3" cy="159.5" r="2.1"/><circle cx="160.9" cy="157.4" r="2.1"/><circle cx="163.2" cy="158.1" r="2.1"/><circle cx="153.2" cy="161.0" r="2.1"/><circle cx="154.0" cy="160.9" r="2.1"/><circle cx="157.2" cy="159.8" r="2.1"/><circle cx="158.5" cy="160.1" r="2.1"/><circle cx="160.3" cy="160.6" r="2.1"/><circle cx="162.6" cy="160.1" r="2.1"/><circle cx="151.8" cy="163.8" r="2.1"/><circle cx="155.7" cy="163.2" r="2.1"/><circle cx="157.1" cy="162.5" r="2.1"/><circle cx="160.2" cy="162.8" r="2.1"/><circle cx="162.0" cy="162.1" r="2.1"/><circle cx="163.3" cy="161.9" r="2.1"/><circle cx="151.8" cy="164.7" r="2.1"/><circle cx="154.9" cy="164.3" r="2.1"/><circle cx="157.3" cy="164.1" r="2.1"/><circle cx="159.4" cy="165.5" r="2.1"/><circle cx="160.1" cy="165.1" r="2.1"/><circle cx="162.5" cy="164.6" r="2.1"/><circle cx="148.9" cy="166.9" r="2.1"/><circle cx="151.7" cy="166.3" r="2.1"/><circle cx="153.6" cy="167.0" r="2.1"/><circle cx="154.3" cy="166.2" r="2.1"/><circle cx="158.1" cy="167.4" r="2.1"/><circle cx="158.9" cy="167.2" r="2.1"/><circle cx="162.7" cy="166.7" r="2.1"/><circle cx="147.7" cy="169.8" r="2.1"/><circle cx="151.0" cy="170.3" r="2.1"/><circle cx="153.0" cy="168.9" r="2.1"/><circle cx="154.1" cy="170.1" r="2.1"/><circle cx="157.1" cy="170.1" r="2.1"/><circle cx="158.5" cy="170.3" r="2.1"/><circle cx="161.4" cy="170.4" r="2.1"/><circle cx="147.7" cy="172.0" r="2.1"/><circle cx="149.1" cy="171.9" r="2.1"/><circle cx="152.3" cy="171.9" r="2.1"/><circle cx="153.8" cy="172.3" r="2.1"/><circle cx="157.6" cy="172.6" r="2.1"/><circle cx="158.8" cy="172.3" r="2.1"/><circle cx="161.1" cy="172.4" r="2.1"/><circle cx="144.5" cy="175.1" r="2.1"/><circle cx="147.2" cy="173.4" r="2.1"/><circle cx="149.2" cy="173.5" r="2.1"/><circle cx="153.0" cy="173.0" r="2.1"/><circle cx="153.6" cy="174.5" r="2.1"/><circle cx="156.1" cy="173.0" r="2.1"/><circle cx="159.2" cy="174.2" r="2.1"/><circle cx="161.3" cy="174.5" r="2.1"/><circle cx="142.8" cy="176.3" r="2.1"/><circle cx="144.6" cy="175.5" r="2.1"/><circle cx="147.1" cy="175.5" r="2.1"/><circle cx="149.8" cy="177.1" r="2.1"/><circle cx="151.0" cy="176.5" r="2.1"/><circle cx="154.6" cy="175.5" r="2.1"/><circle cx="157.0" cy="177.3" r="2.1"/><circle cx="158.2" cy="176.1" r="2.1"/><circle cx="142.6" cy="178.4" r="2.1"/><circle cx="146.3" cy="179.2" r="2.1"/><circle cx="148.4" cy="179.2" r="2.1"/><circle cx="150.5" cy="177.5" r="2.1"/><circle cx="152.0" cy="179.6" r="2.1"/><circle cx="155.1" cy="178.0" r="2.1"/><circle cx="156.2" cy="178.8" r="2.1"/><circle cx="158.3" cy="178.6" r="2.1"/><circle cx="140.4" cy="181.4" r="2.1"/><circle cx="142.5" cy="181.1" r="2.1"/><circle cx="144.5" cy="181.6" r="2.1"/><circle cx="146.9" cy="179.7" r="2.1"/><circle cx="148.6" cy="180.2" r="2.1"/><circle cx="150.9" cy="180.3" r="2.1"/><circle cx="152.8" cy="181.7" r="2.1"/><circle cx="155.2" cy="180.2" r="2.1"/><circle cx="157.2" cy="180.6" r="2.1"/><circle cx="166.2" cy="128.8" r="2.1"/><circle cx="171.3" cy="127.5" r="2.1"/><circle cx="173.7" cy="127.4" r="2.1"/><circle cx="165.1" cy="131.3" r="2.1"/><circle cx="170.4" cy="134.4" r="2.1"/><circle cx="174.8" cy="133.3" r="2.1"/><circle cx="167.7" cy="137.3" r="2.1"/><circle cx="172.4" cy="136.9" r="2.1"/><circle cx="175.3" cy="136.0" r="2.1"/><circle cx="166.0" cy="140.7" r="2.1"/><circle cx="170.3" cy="139.2" r="2.1"/><circle cx="173.5" cy="142.6" r="2.1"/><circle cx="177.1" cy="141.4" r="2.1"/><circle cx="166.1" cy="147.2" r="2.1"/><circle cx="170.3" cy="146.3" r="2.1"/><circle cx="173.8" cy="143.5" r="2.1"/><circle cx="170.3" cy="147.7" r="2.1"/><circle cx="172.3" cy="151.2" r="2.1"/><circle cx="178.5" cy="147.9" r="2.1"/><circle cx="165.8" cy="154.1" r="2.1"/><circle cx="170.9" cy="154.8" r="2.1"/><circle cx="175.9" cy="153.5" r="2.1"/><circle cx="179.6" cy="154.4" r="2.1"/><circle cx="168.0" cy="158.6" r="2.1"/><circle cx="173.0" cy="159.2" r="2.1"/><circle cx="174.7" cy="159.0" r="2.1"/><circle cx="166.1" cy="161.9" r="2.1"/><circle cx="169.1" cy="163.5" r="2.1"/><circle cx="173.5" cy="161.2" r="2.1"/><circle cx="178.4" cy="163.1" r="2.1"/><circle cx="167.0" cy="165.5" r="2.1"/><circle cx="171.4" cy="166.6" r="2.1"/><circle cx="174.8" cy="165.2" r="2.1"/><circle cx="167.5" cy="171.2" r="2.1"/><circle cx="170.4" cy="169.5" r="2.1"/><circle cx="173.2" cy="168.9" r="2.1"/><circle cx="165.7" cy="175.5" r="2.1"/><circle cx="170.7" cy="175.2" r="2.1"/><circle cx="166.7" cy="176.0" r="2.1"/><circle cx="163.5" cy="176.8" r="2.1"/><circle cx="161.6" cy="178.9" r="2.1"/></g><line x1="164.4" y1="9.5" x2="164.4" y2="271" stroke="#1a1a1a" stroke-width="1.3"/><line x1="45" y1="182.2" x2="354" y2="182.2" stroke="#1a1a1a" stroke-width="1.3"/><line x1="45" y1="270.70" x2="354" y2="41.10" stroke="#1a1aff" stroke-width="1.3"/><g fill="none" stroke="#3a7ab8" stroke-width="1.8"><circle cx="254.0" cy="160.5" r="2.2"/><circle cx="260.1" cy="161.6" r="2.2"/><circle cx="260.1" cy="164.8" r="2.2"/><circle cx="289.3" cy="167.3" r="2.2"/><circle cx="254.9" cy="174.4" r="2.2"/><circle cx="251.3" cy="182.7" r="2.2"/><circle cx="277.5" cy="187.0" r="2.2"/><circle cx="339.5" cy="169.2" r="2.2"/><circle cx="343.1" cy="170.9" r="2.2"/></g><g fill="none" stroke="#9a20f0" stroke-width="1.9"><circle cx="142.6" cy="100.2" r="2.3"/><circle cx="182.6" cy="102.4" r="2.3"/><circle cx="214.7" cy="114.8" r="2.3"/><circle cx="172.7" cy="123.9" r="2.3"/><circle cx="155.5" cy="139.0" r="2.3"/><circle cx="135.0" cy="147.2" r="2.3"/><circle cx="112.8" cy="156.2" r="2.3"/><circle cx="104.1" cy="177.8" r="2.3"/><circle cx="170.2" cy="155.7" r="2.3"/><circle cx="221.5" cy="188.0" r="2.3"/></g><line x1="44.5" y1="9.3" x2="354.5" y2="9.3" stroke="#858585" stroke-width="1"/><line x1="44.5" y1="271.6" x2="354.5" y2="271.6" stroke="#808080" stroke-width="1"/><line x1="45" y1="8.7" x2="45" y2="272" stroke="#555" stroke-width="1"/><line x1="354" y1="8.7" x2="354" y2="272" stroke="#777" stroke-width="1"/><line x1="46.6" y1="271" x2="46.6" y2="277" stroke="#555" stroke-width="1"/><text transform="translate(46.6 291.5) scale(0.9691 1)" text-anchor="middle" class="tk2">0.5</text><line x1="92.1" y1="271" x2="92.1" y2="277" stroke="#555" stroke-width="1"/><text transform="translate(92.1 291.5) scale(0.9691 1)" text-anchor="middle" class="tk2">1.0</text><line x1="137.6" y1="271" x2="137.6" y2="277" stroke="#555" stroke-width="1"/><text transform="translate(137.6 291.5) scale(0.9691 1)" text-anchor="middle" class="tk2">2.0</text><line x1="197.6" y1="271" x2="197.6" y2="277" stroke="#555" stroke-width="1"/><text transform="translate(197.6 291.5) scale(0.9691 1)" text-anchor="middle" class="tk2">5.0</text><line x1="243.1" y1="271" x2="243.1" y2="277" stroke="#555" stroke-width="1"/><text transform="translate(243.1 291.5) scale(0.9691 1)" text-anchor="middle" class="tk2">10.0</text><line x1="288.6" y1="271" x2="288.6" y2="277" stroke="#555" stroke-width="1"/><text transform="translate(288.6 291.5) scale(0.9691 1)" text-anchor="middle" class="tk2">20.0</text><line x1="348.6" y1="271" x2="348.6" y2="277" stroke="#555" stroke-width="1"/><text transform="translate(348.6 291.5) scale(0.9691 1)" text-anchor="middle" class="tk2">50.0</text><line x1="39" y1="269.5" x2="45" y2="269.5" stroke="#555" stroke-width="1"/><text transform="translate(31.8 269.5) rotate(-90) scale(0.8952 1)" text-anchor="middle" class="tk3">0.5</text><line x1="39" y1="235.7" x2="45" y2="235.7" stroke="#555" stroke-width="1"/><text transform="translate(31.8 235.7) rotate(-90) scale(0.8952 1)" text-anchor="middle" class="tk3">1.0</text><line x1="39" y1="201.9" x2="45" y2="201.9" stroke="#555" stroke-width="1"/><text transform="translate(31.8 201.9) rotate(-90) scale(0.8952 1)" text-anchor="middle" class="tk3">2.0</text><line x1="39" y1="157.3" x2="45" y2="157.3" stroke="#555" stroke-width="1"/><text transform="translate(31.8 157.3) rotate(-90) scale(0.8952 1)" text-anchor="middle" class="tk3">5.0</text><line x1="39" y1="123.5" x2="45" y2="123.5" stroke="#555" stroke-width="1"/><text transform="translate(31.8 123.5) rotate(-90) scale(0.8952 1)" text-anchor="middle" class="tk3">10.0</text><line x1="39" y1="89.7" x2="45" y2="89.7" stroke="#555" stroke-width="1"/><text transform="translate(31.8 89.7) rotate(-90) scale(0.8952 1)" text-anchor="middle" class="tk3">20.0</text><line x1="39" y1="45.1" x2="45" y2="45.1" stroke="#555" stroke-width="1"/><text transform="translate(31.8 45.1) rotate(-90) scale(0.8952 1)" text-anchor="middle" class="tk3">50.0</text><line x1="39" y1="11.3" x2="45" y2="11.3" stroke="#555" stroke-width="1"/><text transform="translate(31.8 11.3) rotate(-90) scale(0.8952 1)" text-anchor="middle" class="tk3">100.0</text><text transform="translate(199 314.6) scale(0.9322 1)" text-anchor="middle" class="ttl">S/N (edgeR)</text><text transform="translate(8.8 140.2) rotate(-90) scale(0.9322 1)" text-anchor="middle" class="ttl">S/N (limma-voom)</text><text transform="translate(51.3 20.2) scale(0.9691 1)" class="tk2">number=297</text><text transform="translate(341.9 20.2) scale(0.9691 1)" text-anchor="end" class="tk2">number=294</text><text transform="translate(338.8 192.9) scale(0.9691 1)" text-anchor="end" class="tk2">number=58</text><text transform="translate(157.4 267.8) scale(0.9691 1)" text-anchor="end" class="tk2">number=583</text><rect x="241.5" y="237.5" width="112.5" height="33.5" fill="#fff" stroke="#555" stroke-width="1"/><circle cx="252.3" cy="249.1" r="2.3" fill="none" stroke="#3a7ab8" stroke-width="1.6"/><circle cx="252.3" cy="260.5" r="2.3" fill="none" stroke="#9a20f0" stroke-width="1.9"/><text transform="translate(269.5 253) scale(0.9691 1)" class="tk2">top 10 edgeR_S/N</text><text transform="translate(269.5 264.2) scale(0.9691 1)" class="tk2">top 10 edgeR_FDR</text></svg></body></html>
